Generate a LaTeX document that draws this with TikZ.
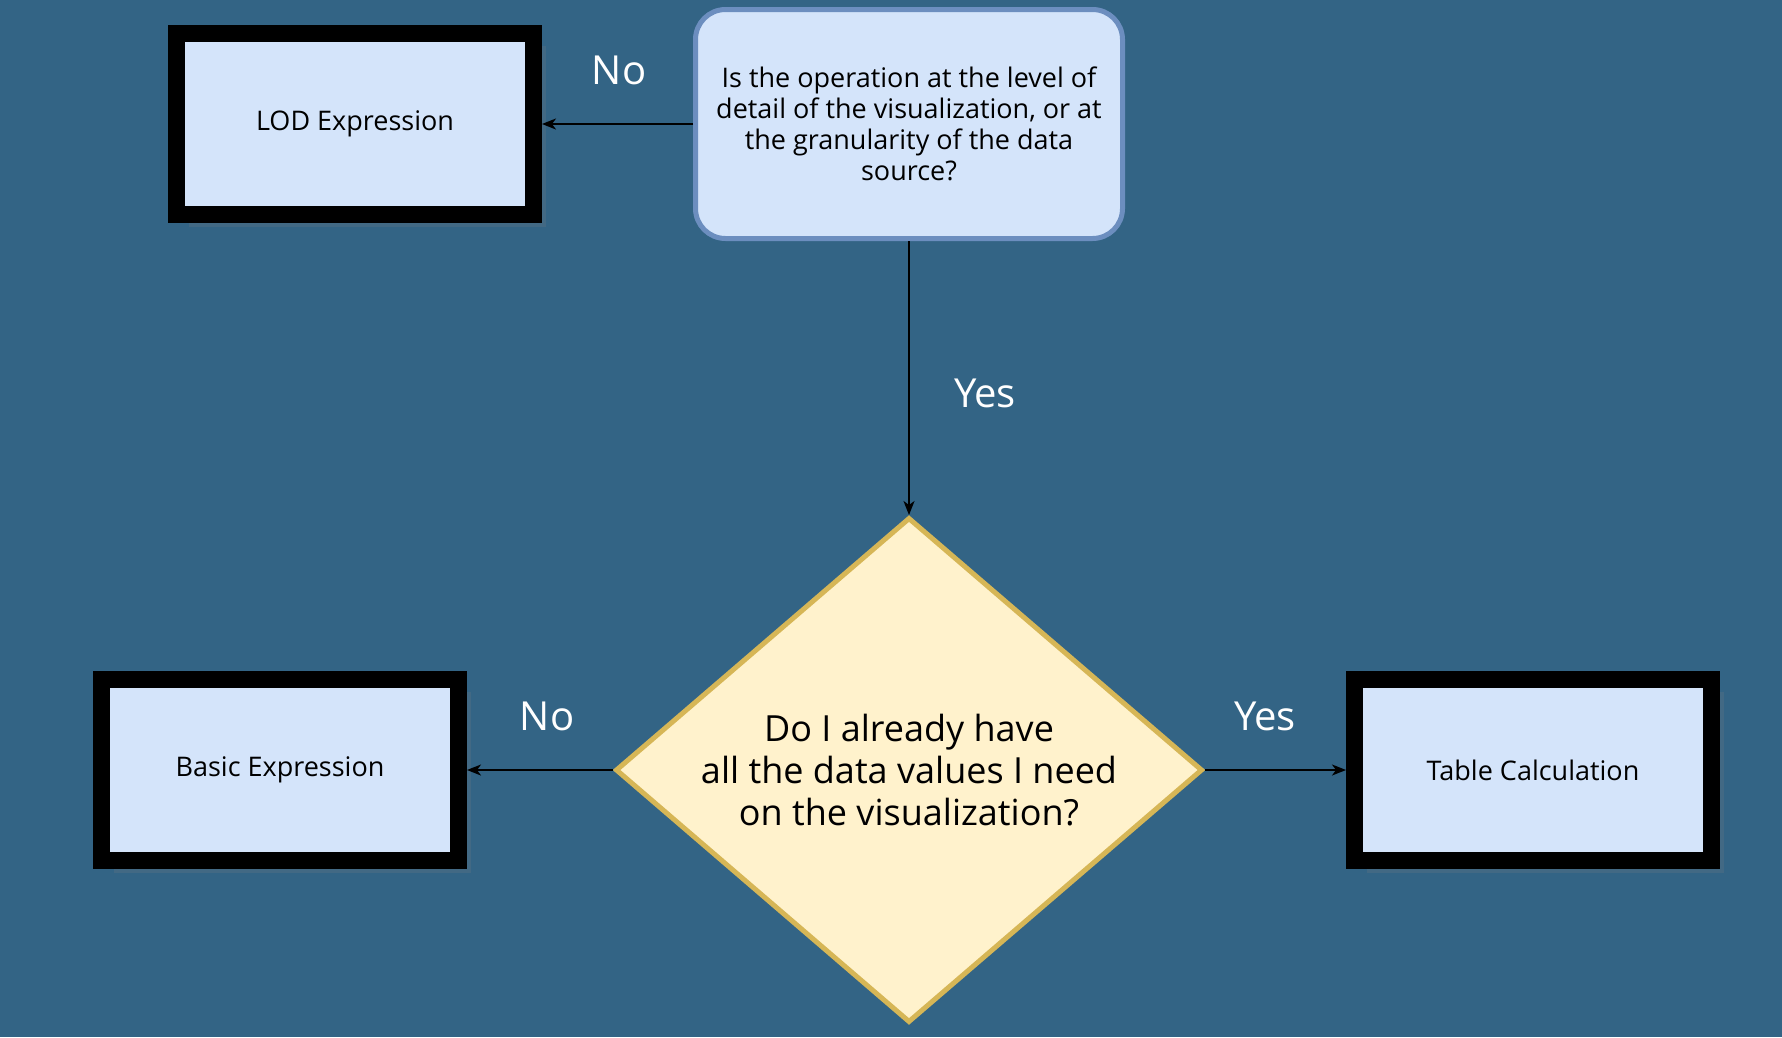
\documentclass[tikz,border=0pt]{standalone}
\usepackage{fontspec}
\setmainfont{Open Sans}
\usetikzlibrary{shapes.geometric}
\usetikzlibrary{arrows.meta}
\usetikzlibrary{positioning}
\usetikzlibrary{shadows}
\definecolor{bgblue}{HTML}{336485}
\definecolor{boxfill}{HTML}{D4E4FA}
\definecolor{qborder}{HTML}{6C8EBF}
\definecolor{decfill}{HTML}{FFF2CC}
\definecolor{decborder}{HTML}{D6B656}

\begin{document}
\begin{tikzpicture}
        [x=1pt, y=-1pt,
         answer/.style={rectangle, draw=black, line width=17pt, fill=boxfill,
           minimum width=357pt, minimum height=181pt, inner sep=0pt,
           font=\fontsize{27}{32}\selectfont,
           drop shadow={opacity=0.2, shadow xshift=12pt, shadow yshift=-12pt}},
         question/.style={rectangle, rounded corners=30pt, draw=qborder, line width=5pt,
           fill=boxfill, minimum width=427pt, minimum height=229pt, align=center,
           font=\fontsize{27}{31}\selectfont},
         decision/.style={diamond, aspect=1.16, draw=decborder, line width=5pt,
           fill=decfill, minimum width=587pt, minimum height=505pt, inner sep=0pt,
           align=center, font=\fontsize{36}{42}\selectfont},
         reply/.style={text=white, font=\fontsize{40}{46}\selectfont},
         link/.style={-{Stealth[length=14pt, width=11pt, inset=4pt]}, line width=1.8pt, black}]
        \useasboundingbox (0,0) rectangle (1782,1037);
        \fill [bgblue] (0,0) rectangle (1782,1037);
        \node [question] (q) at (909,124) {Is the operation at the level of\\detail of the visualization, or at\\the granularity of the data\\source?};
        \node [answer, left=151pt of q] (lod) {LOD Expression};
        \node [decision, below=274pt of q] (dec) {Do I already have\\all the data values I need\\on the visualization?};
        \node [answer, left=146pt of dec] (basic) {Basic Expression};
        \node [answer, right=141pt of dec] (table) {Table Calculation};
        \draw [link] (q.west) -- (lod.east);
        \draw [link] (q.south) -- (dec.north);
        \draw [link] (dec.west) -- (basic.east);
        \draw [link] (dec.east) -- (table.west);
        \node [reply] (no1) at (619,70) {No};
        \node [reply] (yes1) at (985,393) {Yes};
        \node [reply] (no2) at (547,716) {No};
        \node [reply] (yes2) at (1265,716) {Yes};
    \end{tikzpicture}
\end{document}
